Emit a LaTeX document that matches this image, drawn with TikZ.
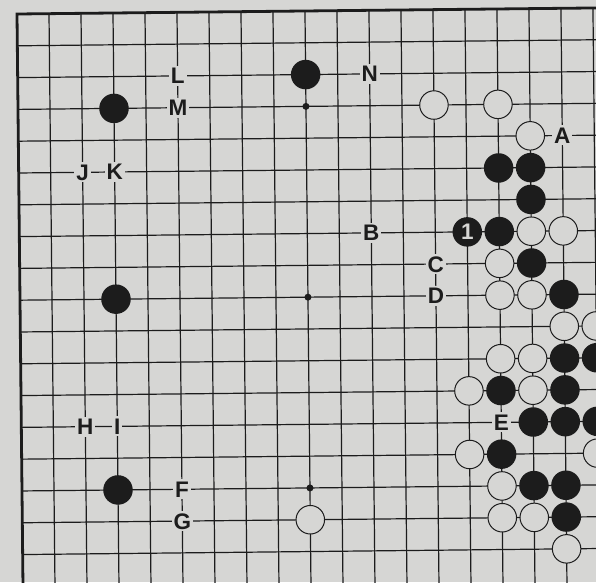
\documentclass[tikz,border=0pt]{standalone}
\usepackage{fontspec}
\setmainfont{Liberation Sans}
\definecolor{paper}{RGB}{214,214,212}
\definecolor{ink}{RGB}{28,28,28}
\begin{document}
\begin{tikzpicture}[x=1pt,y=-1pt,
  gridline/.style={ink, line width=1.2pt},
  edgeline/.style={ink, line width=2.8pt, line join=miter},
  bstone/.style={circle, fill=ink, minimum size=29.5pt, inner sep=0pt},
  wstone/.style={circle, fill=paper, draw=ink, line width=1pt, minimum size=28.5pt, inner sep=0pt},
  lab/.style={fill=paper, inner sep=2pt, text height=16pt, text depth=0pt, text=ink,
              font=\fontsize{22.5}{22.5}\selectfont\bfseries},
  hoshi/.style={circle, fill=ink, minimum size=7pt, inner sep=0pt},
  movenum/.style={bstone, text=paper, font=\fontsize{22.5}{22.5}\selectfont\bfseries}]
\fill[paper] (0,0) rectangle (596,582);
\path[use as bounding box] (0,0) rectangle (596,582);
\clip (0,0) rectangle (596,582);
\begin{scope}[shift={(17pt,-14pt)}, rotate=0.6, x=32pt, y=-31.8pt]
  % grid
  \foreach \k in {1,...,18} \draw[gridline] (\k,0) -- (\k,18.6);
  \foreach \r in {1,...,17} \draw[gridline] (0,\r) -- (18.9,\r);
  \draw[edgeline] (0,18.6) -- (0,0) -- (18.9,0);
  % star points
  \foreach \c/\r in {9/3,9/9,9/15} \node[hoshi] (h-\c-\r) at (\c,\r) {};
  % black stones
  \foreach \c/\r in {3/3,3/9,3/15,9/2,15/5,16/5,16/6,15/7,16/8,17/9,17/11,18/11,
                     15/12,17/12,16/13,17/13,18/13,15/14,16/15,17/15,17/16}
    \node[bstone] (b-\c-\r) at (\c,\r) {};
  % white stones
  \foreach \c/\r in {13/3,15/3,16/4,16/7,17/7,15/8,15/9,16/9,17/10,18/10,15/11,16/11,
                     14/12,16/12,14/14,18/14,15/15,15/16,16/16,17/17,9/16}
    \node[wstone] (w-\c-\r) at (\c,\r) {};
  % move 1
  \node[movenum] (m1) at (14,7) {1};
  % letters
  \node[lab] (lL) at (5,2) {L};
  \node[lab] (lM) at (5,3) {M};
  \node[lab] (lN) at (11,2) {N};
  \node[lab] (lA) at (17,4) {A};
  \node[lab] (lJ) at (2,5) {J};
  \node[lab] (lK) at (3,5) {K};
  \node[lab] (lB) at (11,7) {B};
  \node[lab] (lC) at (13,8) {C};
  \node[lab] (lD) at (13,9) {D};
  \node[lab] (lE) at (15,13) {E};
  \node[lab] (lH) at (2,13) {H};
  \node[lab] (lI) at (3,13) {I};
  \node[lab] (lF) at (5,15) {F};
  \node[lab] (lG) at (5,16) {G};
\end{scope}
\end{tikzpicture}
\end{document}
